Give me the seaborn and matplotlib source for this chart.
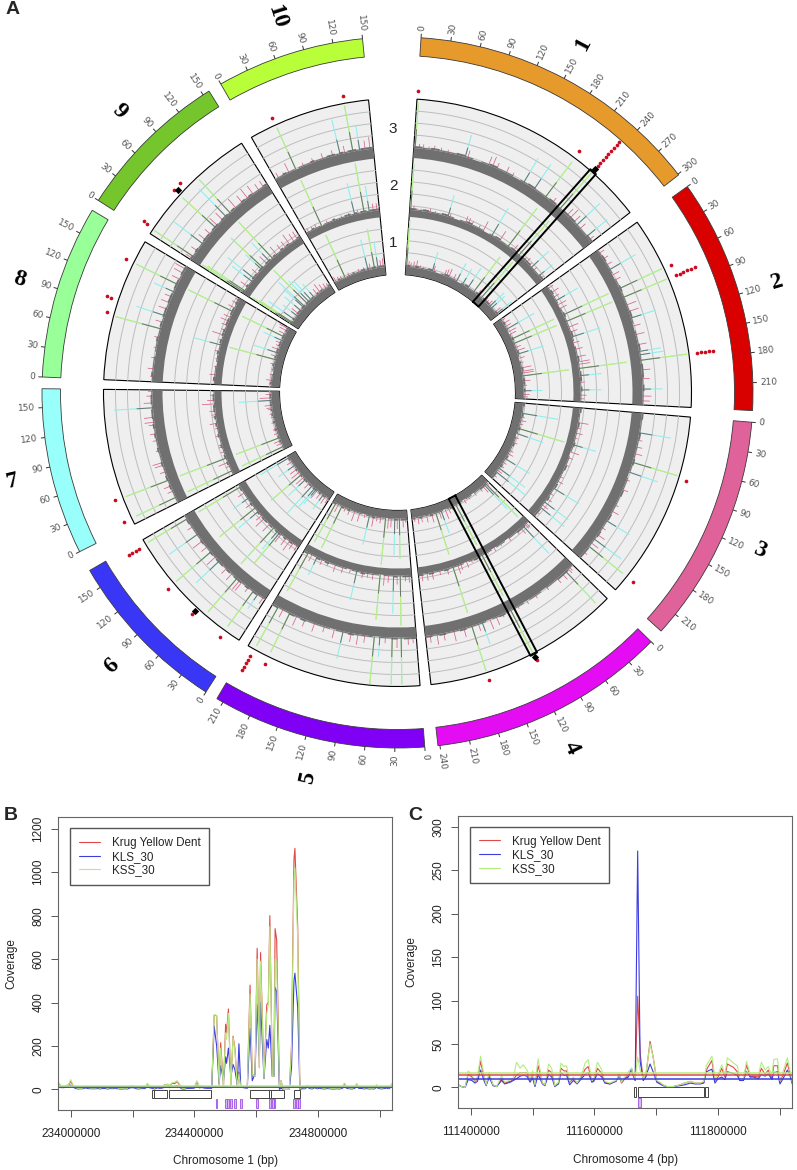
import numpy as np
import pandas as pd
import matplotlib
matplotlib.use("Agg")
import matplotlib.pyplot as plt
import seaborn as sns

sns.set_style("white")
plt.rcParams['font.family'] = ['Liberation Sans', 'DejaVu Sans']

# ---- circular panel: chromosomes
chrom_names = ['1', '2', '3', '4', '5', '6', '7', '8', '9', '10']
chrom_len = [301, 238, 232, 242, 217, 170, 169, 176, 157, 150]
chrom_start = [3.8, 54.6, 94.8, 134.5, 175.6, 212.6, 243.4, 272.5, 302.7, 330.2]
chrom_last_tick = [300, 210, 210, 240, 210, 150, 150, 150, 150, 150]
chrom_col = ['#E69A2B', '#D90000', '#E0629A', '#E30CF2', '#8000F5',
             '#3A36F5', '#99FFFB', '#99FF99', '#74C62C', '#B8FF3A']

# spikes: position (Mb) and height above the grey band for rings 1, 2, 3
chr1_mb = [2, 8, 14, 22, 30, 40, 50, 76, 80, 112, 118, 125, 140, 150, 169, 187, 207, 220, 234, 248, 254, 262, 268, 275, 290, 296]
chr1_h1 = [46, 8, 6, 8, 10, 4, 3, 20, 8, 8, 10, 12, 8, 20, 18, 24, 44, 8, 48, 6, 5, 8, 20, 18, 10, 20]
chr1_h2 = [46, 6, 3, 3, 3, 5, 3, 22, 5, 9, 8, 6, 5, 14, 32, 15, 48, 10, 46, 5, 8, 5, 24, 6, 18, 5]
chr1_h3 = [45, 6, 6, 4, 6, 5, 4, 23, 10, 12, 14, 8, 9, 5, 28, 30, 44, 8, 48, 12, 16, 12, 32, 10, 27, 8]
chr2_mb = [5, 15, 25, 33, 42, 50, 64, 78, 90, 100, 110, 122, 135, 150, 160, 165, 173, 187, 200, 215, 225, 232]
chr2_h1 = [6, 10, 9, 32, 12, 10, 47, 47, 8, 12, 27, 8, 5, 14, 16, 16, 47, 10, 5, 19, 8, 6]
chr2_h2 = [8, 12, 8, 25, 12, 10, 50, 50, 14, 10, 30, 8, 10, 12, 16, 16, 48, 22, 6, 21, 8, 5]
chr2_h3 = [8, 8, 8, 30, 10, 8, 47, 47, 14, 14, 26, 10, 12, 12, 22, 25, 47, 12, 10, 20, 12, 10]
chr3_mb = [29, 40, 50, 60, 73, 88, 100, 115, 140, 150, 166, 178, 190, 198, 205, 211, 222]
chr3_h1 = [37, 5, 8, 5, 48, 28, 5, 6, 6, 8, 29, 6, 6, 33, 8, 39, 6]
chr3_h2 = [14, 5, 9, 4, 24, 12, 6, 5, 5, 8, 30, 5, 8, 30, 10, 31, 5]
chr3_h3 = [32, 6, 8, 10, 47, 30, 5, 8, 5, 10, 27, 6, 12, 34, 12, 44, 6]
chr4_mb = [6, 9, 14, 20, 30, 50, 70, 85, 100, 112, 125, 135, 145, 157, 163, 173, 185, 200, 215, 225, 235]
chr4_h1 = [6, 47, 34, 12, 6, 5, 4, 6, 4, 46, 5, 8, 14, 24, 10, 44, 12, 10, 8, 10, 6]
chr4_h2 = [8, 8, 38, 10, 5, 5, 3, 5, 3, 46, 4, 4, 8, 8, 12, 48, 8, 6, 10, 10, 10]
chr4_h3 = [6, 8, 44, 10, 8, 5, 5, 5, 4, 48, 5, 12, 14, 23, 10, 47, 12, 14, 10, 14, 10]
chr5_mb = [5, 12, 22, 28, 35, 45, 53, 61, 75, 85, 95, 107, 120, 135, 150, 165, 178, 189, 200, 208]
chr5_h1 = [6, 12, 40, 14, 37, 12, 14, 47, 8, 6, 14, 30, 5, 12, 14, 8, 6, 47, 12, 45]
chr5_h2 = [10, 8, 50, 12, 38, 10, 14, 45, 8, 6, 8, 30, 5, 8, 10, 6, 8, 20, 10, 44]
chr5_h3 = [8, 10, 47, 14, 47, 8, 20, 48, 10, 14, 12, 28, 12, 8, 12, 10, 14, 44, 12, 45]
chr6_mb = [4, 13, 21, 30, 42, 46, 51, 61, 72, 87, 95, 105, 114, 125, 137, 150, 164]
chr6_h1 = [8, 12, 18, 10, 14, 20, 26, 38, 10, 24, 14, 40, 14, 12, 20, 8, 34]
chr6_h2 = [8, 10, 16, 12, 14, 40, 24, 49, 14, 16, 10, 26, 46, 10, 18, 10, 49]
chr6_h3 = [10, 18, 44, 8, 15, 16, 45, 12, 10, 32, 16, 46, 10, 16, 35, 8, 46]
chr7_mb = [8, 18, 26, 35, 48, 58, 62, 80, 95, 105, 118, 122, 129, 143, 150, 160, 167]
chr7_h1 = [46, 8, 10, 47, 6, 5, 5, 5, 4, 5, 6, 8, 10, 33, 16, 8, 5]
chr7_h2 = [49, 6, 14, 50, 5, 6, 5, 6, 4, 10, 5, 6, 8, 17, 10, 6, 4]
chr7_h3 = [44, 8, 10, 46, 8, 12, 14, 5, 6, 8, 8, 13, 13, 39, 12, 8, 6]
chr8_mb = [8, 19, 35, 50, 65, 78, 88, 98, 108, 118, 127, 135, 147, 155, 165, 172]
chr8_h1 = [4, 8, 4, 3, 6, 48, 8, 26, 10, 6, 8, 21, 47, 10, 12, 14]
chr8_h2 = [3, 8, 3, 3, 6, 27, 5, 16, 6, 8, 12, 10, 50, 10, 8, 6]
chr8_h3 = [4, 8, 5, 4, 6, 47, 10, 30, 12, 12, 10, 22, 46, 12, 14, 16]
chr9_mb = [3, 6, 16, 29, 36, 47, 59, 63, 74, 81, 89, 100, 112, 122, 132, 142, 150]
chr9_h1 = [47, 40, 32, 18, 12, 22, 28, 36, 48, 30, 26, 18, 10, 14, 10, 8, 6]
chr9_h2 = [50, 45, 12, 25, 34, 10, 22, 44, 14, 26, 50, 14, 10, 10, 16, 12, 12]
chr9_h3 = [10, 47, 10, 36, 12, 10, 45, 15, 14, 39, 46, 16, 12, 16, 14, 10, 10]
chr10_mb = [5, 14, 22, 33, 45, 60, 75, 90, 101, 108, 120, 130, 138, 145]
chr10_h1 = [8, 6, 5, 47, 5, 3, 5, 5, 31, 8, 40, 26, 10, 12]
chr10_h2 = [6, 5, 6, 50, 4, 3, 4, 4, 32, 5, 50, 26, 10, 10]
chr10_h3 = [8, 4, 14, 46, 5, 6, 8, 8, 36, 10, 47, 25, 12, 16]

spike_mb = [chr1_mb, chr2_mb, chr3_mb, chr4_mb, chr5_mb, chr6_mb, chr7_mb, chr8_mb, chr9_mb, chr10_mb]
spike_h1 = [chr1_h1, chr2_h1, chr3_h1, chr4_h1, chr5_h1, chr6_h1, chr7_h1, chr8_h1, chr9_h1, chr10_h1]
spike_h2 = [chr1_h2, chr2_h2, chr3_h2, chr4_h2, chr5_h2, chr6_h2, chr7_h2, chr8_h2, chr9_h2, chr10_h2]
spike_h3 = [chr1_h3, chr2_h3, chr3_h3, chr4_h3, chr5_h3, chr6_h3, chr7_h3, chr8_h3, chr9_h3, chr10_h3]

# roughness of the grey band along each chromosome
band1 = [2, 1, 2, 1, 1, 2, 1, 0, 1, 2, 1, 1, 0, 1, 2, 1, 1, 2, 1, 2, 2, 1, 1, 2]
band2 = [1, 2, 1, 1, 0, 1, 2, 1, 1, 1, 2, 1, 0, 1, 1, 2, 1, 1, 2, 2, 1, 2, 1, 1]
band3 = [2, 1, 1, 2, 1, 1, 1, 2, 1, 0, 1, 1, 2, 1, 1, 1, 2, 1, 1, 2, 1, 1, 2, 2]
band4 = [1, 2, 2, 1, 1, 0, 1, 1, 0, 1, 1, 1, 2, 1, 0, 1, 1, 1, 2, 1, 1, 2, 1, 2]
band5 = [2, 2, 1, 2, 1, 1, 0, 1, 1, 1, 2, 1, 1, 0, 1, 1, 1, 1, 2, 1, 2, 1, 1, 2]
band6 = [1, 1, 2, 1, 2, 1, 2, 2, 1, 2, 1, 2, 2, 1, 2, 1, 1, 2, 1, 1, 1, 1, 2, 1]
band7 = [1, 1, 1, 2, 1, 2, 1, 1, 2, 1, 1, 2, 1, 1, 2, 1, 2, 1, 2, 2, 1, 2, 2, 1]
band8 = [1, 2, 1, 1, 1, 0, 1, 1, 2, 1, 1, 2, 1, 2, 2, 1, 2, 2, 1, 2, 2, 1, 2, 2]
band9 = [2, 1, 2, 1, 1, 2, 2, 1, 2, 2, 1, 2, 2, 1, 2, 1, 1, 2, 1, 2, 1, 1, 1, 2]
band10 = [1, 1, 2, 1, 1, 0, 1, 1, 1, 2, 1, 1, 1, 2, 2, 1, 2, 1, 2, 2, 1, 2, 2, 2]
band_rough = [band1, band2, band3, band4, band5, band6, band7, band8, band9, band10]

# outliers above the outer ring: chromosome index, Mb, number of stacked dots
out_chrom = [0, 0, 0, 1, 1, 1, 2, 2, 3, 3, 4, 4, 5, 5, 5, 5, 6, 6, 7, 7, 7, 8, 8, 8, 9, 9]
out_mb = [1, 206, 234, 65, 78, 173, 76, 211, 173, 112, 189, 209, 21, 105, 64, 163, 8, 36, 81, 98, 147, 8, 59, 69, 33, 120]
out_n = [1, 1, 9, 1, 6, 5, 1, 1, 1, 1, 1, 5, 1, 1, 1, 4, 1, 1, 1, 2, 1, 2, 1, 1, 1, 1]
mark_chrom = [0, 3, 5, 8]
mark_mb = [234.4, 111.7, 63, 62]
window_chrom = [0, 3]
window_mb = [234.4, 111.7]

# ---- panel B
b_kb = [-38, -30, -22, -14, -6, 0, 8, 16, 24, 32, 40, 48, 56, 64, 72, 80, 88, 96, 104, 112,
        120, 128, 136, 144, 152, 160, 168, 176, 184, 192, 200, 208, 216, 224, 232, 240, 248, 256, 264, 272,
        280, 288, 296, 304, 312, 320, 328, 336, 344, 352, 360, 368, 376, 384, 392, 400, 408, 416, 424, 432,
        440, 448, 456, 464, 472, 480, 485, 494, 501, 504, 510, 518, 525, 531, 539, 544, 550, 571, 580, 587,
        596, 603, 610, 614, 625, 634, 639, 644, 652, 657, 661, 666, 675, 680, 687, 707, 714, 722, 725, 734,
        741, 749, 757, 765, 773, 781, 789, 797, 805, 813, 821, 829, 837, 845, 853, 861, 869, 877, 885, 893,
        901, 909, 917, 925, 933, 941, 949, 957, 965, 973, 981, 989, 997, 1005, 1013, 1021, 1029, 1040]
b_kss = [30, 15, 15, 18, 25, 45, 20, 8, 5, 5, 6, 15, 8, 6, 6, 6, 8, 5, 10, 8,
         5, 8, 6, 12, 6, 5, 5, 6, 5, 15, 18, 12, 5, 6, 8, 8, 28, 14, 10, 5,
         15, 10, 12, 20, 25, 20, 30, 32, 40, 25, 5, 5, 8, 10, 10, 12, 40, 15, 18, 14,
         10, 10, 10, 345, 340, 20, 190, 10, 260, 230, 350, 20, 240, 180, 10, 70, 10, 10, 440, 70,
         60, 600, 100, 590, 50, 350, 390, 750, 60, 60, 600, 580, 10, 40, 0, 0, 190, 960, 1020, 700,
         5, 8, 6, 20, 8, 5, 18, 6, 14, 6, 5, 8, 6, 5, 5, 6, 5, 8, 30, 10,
         6, 5, 8, 28, 8, 10, 5, 8, 5, 6, 5, 22, 8, 5, 8, 15, 6, 30]
b_krug = [25, 12, 12, 14, 20, 38, 16, 6, 4, 4, 5, 12, 6, 5, 5, 5, 6, 4, 8, 6,
          4, 6, 5, 10, 5, 4, 4, 5, 4, 12, 14, 10, 4, 5, 6, 6, 22, 12, 8, 4,
          12, 8, 10, 22, 20, 16, 28, 26, 36, 20, 4, 4, 6, 8, 8, 10, 34, 12, 14, 10,
          8, 10, 10, 340, 340, 20, 215, 10, 300, 260, 370, 20, 245, 190, 10, 80, 10, 10, 480, 70,
          60, 650, 100, 630, 50, 390, 400, 800, 60, 60, 740, 690, 10, 40, 0, 0, 200, 1060, 1110, 750,
          5, 6, 5, 16, 6, 4, 14, 5, 12, 5, 4, 6, 5, 4, 4, 5, 4, 6, 24, 8,
          5, 4, 6, 22, 6, 8, 4, 6, 4, 5, 4, 18, 6, 4, 6, 12, 5, 24]
b_kls = [12, 8, 8, 10, 12, 20, 10, 4, 2, 3, 3, 7, 4, 3, 3, 3, 4, 2, 5, 4,
         2, 4, 3, 6, 3, 2, 2, 3, 2, 7, 8, 6, 2, 3, 4, 4, 12, 7, 5, 2,
         7, 5, 6, 10, 12, 8, 14, 14, 18, 10, 2, 2, 4, 5, 5, 6, 18, 7, 9, 6,
         5, 5, 5, 290, 200, 25, 110, 40, 150, 120, 190, 60, 115, 90, 20, 210, 10, 5, 280, 40,
         70, 390, 150, 400, 50, 230, 190, 295, 60, 60, 470, 450, 0, 5, 0, 0, 100, 500, 535, 380,
         0, 3, 3, 10, 4, 2, 8, 3, 6, 3, 2, 4, 3, 2, 2, 3, 2, 4, 12, 5,
         3, 2, 4, 12, 4, 5, 2, 4, 2, 3, 2, 9, 4, 2, 4, 6, 3, 14]
b_box_start = [262, 269, 317, 580, 642, 649, 722]
b_box_end = [268, 313, 453, 642, 648, 691, 743]
b_mark_start = [469, 499, 506, 515, 529, 548, 600, 640, 650, 657, 720, 727, 736]
b_mark_end = [474, 505, 513, 520, 534, 553, 606, 649, 656, 660, 726, 735, 743]

# ---- panel C
c_kb = [-20, -15, -9, -4, 2, 7, 11, 16, 22, 25, 30, 36, 42, 50, 55, 64, 69, 74, 80, 85,
        91, 96, 100, 104, 109, 116, 120, 126, 131, 136, 142, 146, 151, 155, 160, 166, 172, 179, 185, 190,
        196, 199, 205, 212, 217, 225, 231, 235, 240, 244, 249, 255, 260, 266, 270, 274, 279, 283, 290, 295,
        301, 306, 311, 317, 328, 338, 346, 355, 363, 371, 377, 381, 390, 395, 400, 406, 411, 415, 425, 431,
        435, 441, 446, 452, 457, 465, 470, 476, 481, 487, 490, 496, 500, 505, 512, 516, 520]
c_kss = [3, 1, 0, 19, 14, 8, 12, 36, 12, 3, 17, 3, 1, 14, 6, 9, 10, 29, 22, 26,
         20, 9, 19, 3, 33, 5, 3, 27, 22, 2, 6, 28, 24, 25, 7, 12, 5, 14, 28, 32,
         8, 10, 29, 20, 7, 5, 7, 8, 15, 6, 12, 18, 22, 10, 35, 20, 10, 15, 50, 35,
         8, 6, 3, 1, 1, 3, 5, 7, 5, 5, 7, 25, 36, 10, 15, 26, 15, 34, 28, 25,
         10, 10, 30, 15, 15, 14, 29, 20, 24, 14, 32, 33, 8, 18, 34, 20, 6]
c_krug = [3, 1, 0, 15, 12, 7, 10, 30, 10, 3, 15, 3, 1, 10, 5, 7, 9, 14, 17, 17,
          17, 8, 16, 3, 25, 5, 3, 20, 17, 2, 5, 22, 19, 19, 6, 10, 5, 12, 21, 24,
          7, 8, 22, 16, 6, 4, 6, 7, 13, 5, 10, 14, 18, 8, 105, 40, 8, 12, 53, 35,
          7, 5, 3, 1, 1, 3, 5, 7, 5, 5, 6, 20, 31, 8, 12, 22, 12, 27, 23, 18,
          8, 8, 26, 12, 13, 12, 22, 15, 20, 10, 25, 25, 7, 14, 28, 17, 5]
c_kls = [3, 1, 0, 9, 8, 5, 7, 20, 7, 2, 12, 2, 1, 8, 4, 6, 8, 10, 13, 14,
         13, 6, 11, 1, 15, 4, 2, 15, 12, 1, 4, 17, 14, 14, 3, 8, 4, 10, 15, 17,
         6, 7, 16, 12, 5, 4, 6, 7, 15, 6, 10, 12, 22, 8, 272, 30, 8, 12, 27, 18,
         6, 4, 2, 1, 1, 2, 3, 5, 4, 4, 5, 18, 21, 5, 10, 12, 9, 18, 16, 14,
         8, 8, 18, 12, 12, 10, 15, 13, 16, 9, 17, 18, 4, 10, 20, 14, 4]
c_box_start = [264, 271, 379]
c_box_end = [268, 378, 384]
c_mark_start = [271]
c_mark_end = [276]

legend_names = ['Krug Yellow Dent', 'KLS_30', 'KSS_30']
line_cols = ['#E04848', '#3C3CE0', '#B4EC80']
b_means = [13, 12, 14]
c_means = [14, 10, 17]

W, H = 797, 1170
fig = plt.figure(figsize=(W / 100, H / 100), dpi=100)

# ---- polar axes where one radial unit is one pixel
cx, cy, view = 397.5, 392.5, 420
pol = fig.add_axes([(cx - view) / W, 1 - (cy + view) / H, 2 * view / W, 2 * view / H], projection='polar')
pol.set_theta_zero_location('N')
pol.set_theta_direction(-1)

ring_base = [118, 176, 235]
band_thick = [9, 8, 11]
outer_r = 294
ide_in, ide_out = 337, 355.5
deg_per_mb = 0.161
grid_r = [128, 140, 152, 164, 187, 199, 211, 223, 246, 258, 270, 282]


def to_theta(i, mb):
    return np.radians(chrom_start[i] + np.asarray(mb) * deg_per_mb)


for i, ln in enumerate(chrom_len):
    t0 = to_theta(i, 0)
    t1 = to_theta(i, ln)
    # ideogram
    pol.bar((t0 + t1) / 2, ide_out - ide_in, width=t1 - t0, bottom=ide_in, color=chrom_col[i],
            edgecolor='#3a3a3a', linewidth=0.6)
    ticks = np.arange(0, chrom_last_tick[i] + 1, 30)
    pol.vlines(to_theta(i, ticks), ide_out, ide_out + 4, color='#333333', linewidth=0.7)
    for tk in ticks:
        deg = chrom_start[i] + tk * deg_per_mb
        rot = 90 - deg if deg < 180 else 270 - deg
        pol.text(np.radians(deg), 362 + 3 * len(str(tk)), str(tk), rotation=rot, rotation_mode='anchor',
                 ha='center', va='center', fontsize=6.5, color='#555555', family='DejaVu Sans')
    # chromosome name
    mid = chrom_start[i] + ln * deg_per_mb / 2
    rot = 90 - mid if mid < 180 else 270 - mid
    pol.text(np.radians(mid), 395, chrom_names[i], rotation=rot, rotation_mode='anchor', ha='center',
             va='center', fontsize=17, color='black', family='Liberation Serif', weight='bold')
    # sector background
    pol.bar((t0 + t1) / 2, outer_r - ring_base[0], width=t1 - t0, bottom=ring_base[0], color='#EFEFEF',
            edgecolor='black', linewidth=0.8)
    arc = np.linspace(t0, t1, 60)
    for gr in grid_r:
        pol.plot(arc, np.full(60, gr), color='#BDBDBD', linewidth=0.7, zorder=1.5)
    # spikes, one ring at a time; tall ones are colour over grey, short ones pink
    mb = np.array(spike_mb[i])
    for rb, th, hs in zip(ring_base, band_thick, [spike_h1[i], spike_h2[i], spike_h3[i]]):
        hs = np.array(hs, dtype=float)
        start = rb + th - 1
        tall = hs >= 18
        green = hs >= 40
        pol.vlines(to_theta(i, mb[~tall]), start, start + hs[~tall] * 0.75, colors='#D9608C', linewidth=0.55, zorder=2)
        pol.vlines(to_theta(i, mb[tall]), start, start + hs[tall], colors='#8FEFEE', linewidth=0.8, zorder=2)
        pol.vlines(to_theta(i, mb[green]), start, start + hs[green], colors='#BDEE78', linewidth=0.8, zorder=2.05)
        pol.vlines(to_theta(i, mb[tall]), start, start + hs[tall] * 0.42, colors='#707070', linewidth=0.7, zorder=2.1)
    # grey band: a solid arc and the rough top edge over it
    rough = np.array(band_rough[i], dtype=float)
    w = (t1 - t0) / len(rough)
    centers = t0 + w * (np.arange(len(rough)) + 0.5)
    for rb, th in zip(ring_base, band_thick):
        pol.bar((t0 + t1) / 2, th - 1, width=t1 - t0, bottom=rb, color='#707070', linewidth=0, zorder=2.5)
        pol.bar(centers, rough, width=w, bottom=rb + th - 1, color='#707070', linewidth=0, zorder=2.5)

# outlier dots and black marks
dot_t, dot_r = [], []
for c, m, n in zip(out_chrom, out_mb, out_n):
    for k in range(n):
        dot_t.append(to_theta(c, m))
        dot_r.append(302 + 4.1 * k)
sns.scatterplot(x=dot_t, y=dot_r, ax=pol, color='#CC0A1E', s=7, linewidth=0, legend=False)
sns.scatterplot(x=[to_theta(c, m) for c, m in zip(mark_chrom, mark_mb)], y=[298] * len(mark_mb), ax=pol,
                color='black', marker='D', s=14, linewidth=0, legend=False)

# the two long windows keep parallel sides, so work out the corners
for c, m in zip(window_chrom, window_mb):
    th = to_theta(c, m)
    u = np.array([np.sin(th), np.cos(th)])
    n = np.array([np.cos(th), -np.sin(th)])
    pts = [118 * u - 3.7 * n, 295 * u - 3.7 * n, 295 * u + 3.7 * n, 118 * u + 3.7 * n, 118 * u - 3.7 * n]
    pol.plot([np.arctan2(p[0], p[1]) for p in pts], [np.hypot(p[0], p[1]) for p in pts], color='black',
             linewidth=1.4, zorder=3)

pol.set_xlabel('')
pol.set_ylabel('')
pol.set_rlim(0, view)
pol.axis('off')


def coverage_panel(box, kb, krug, kls, kss, means, origin, step, tick_labels, ymin, ymax, yticks, xmin, xmax,
                   box_start, box_end, box_y, mark_start, mark_end, mark_y, xlabel, legend_anchor):
    left, top, right, bottom = box
    ax = fig.add_axes([left / W, 1 - bottom / H, (right - left) / W, (bottom - top) / H])
    x = origin + np.array(kb) * 1000
    df = pd.DataFrame({'x': x, 'krug': krug, 'kls': kls, 'kss': kss})
    for col, name, c in zip(['krug', 'kls', 'kss'], legend_names, line_cols):
        sns.lineplot(data=df, x='x', y=col, ax=ax, color=c, linewidth=0.8, label=name, estimator=None, sort=False)
    for mean, c in zip(means, line_cols):
        ax.axhline(mean, color=c, linewidth=1.1)
    s = origin + np.array(box_start) * 1000
    e = origin + np.array(box_end) * 1000
    ax.bar(s, box_y[1] - box_y[0], width=e - s, bottom=box_y[0], align='edge', color='white',
           edgecolor='#444444', linewidth=0.7)
    s = origin + np.array(mark_start) * 1000
    e = origin + np.array(mark_end) * 1000
    ax.bar(s, mark_y[1] - mark_y[0], width=e - s, bottom=mark_y[0], align='edge', color='#D9B8F5',
           edgecolor='#A050E8', linewidth=0.6)
    ax.set_xlim(xmin, xmax)
    ax.set_ylim(ymin, ymax)
    ticks = [origin + step * k for k in range(6)]
    ax.set_xticks(ticks)
    ax.set_xticklabels([str(int(t)) if t in tick_labels else '' for t in ticks], fontsize=8.5, color='#222222')
    ax.set_yticks(yticks)
    ax.set_yticklabels([str(v) for v in yticks], rotation=90, va='center', fontsize=8.5, color='#222222')
    ax.tick_params(axis='both', length=5, width=0.7, color='#555555', direction='out', pad=5, bottom=True, left=True)
    ax.tick_params(axis='x', pad=8)
    for sp in ax.spines.values():
        sp.set_color('#666666')
        sp.set_linewidth(0.8)
    ax.set_xlabel(xlabel, fontsize=8.5, labelpad=11, color='#222222')
    ax.set_ylabel('Coverage', fontsize=8.5, labelpad=11, color='#222222')
    ax.legend(loc='upper left', bbox_to_anchor=legend_anchor, borderaxespad=0, fontsize=8.4, frameon=True,
              fancybox=False, framealpha=1, edgecolor='#555555', handlelength=1.8, labelspacing=0.13,
              borderpad=0.75, handletextpad=1.0)
    return ax


coverage_panel((58.3, 817.3, 392.3, 1110), b_kb, b_krug, b_kls, b_kss, b_means, 234000000, 200000,
               [234000000, 234400000, 234800000], -95, 1253, [0, 200, 400, 600, 800, 1000, 1200],
               233960000, 235039900, b_box_start, b_box_end, (-42, -1), b_mark_start, b_mark_end, (-88, -46),
               'Chromosome 1 (bp)', (0.036, 0.962))
coverage_panel((458.3, 815.7, 792.3, 1108.3), c_kb, c_krug, c_kls, c_kss, c_means, 111400000, 100000,
               [111400000, 111600000, 111800000], -24, 312.6, [0, 50, 100, 150, 200, 250, 300],
               111380000, 111920000, c_box_start, c_box_end, (-11, 0), c_mark_start, c_mark_end, (-22, -12),
               'Chromosome 4 (bp)', (0.036, 0.962))

# panel letters and ring numbers
for txt, px, py in [('A', 13, 10), ('B', 11, 815), ('C', 415, 815)]:
    fig.text(px / W, 1 - py / H, txt, fontsize=14, weight='bold', ha='center', va='center')
for txt, py in [('3', 129), ('2', 186), ('1', 243)]:
    fig.text(393 / W, 1 - py / H, txt, fontsize=11, ha='center', va='center')

fig.savefig('out.png', dpi=100)
